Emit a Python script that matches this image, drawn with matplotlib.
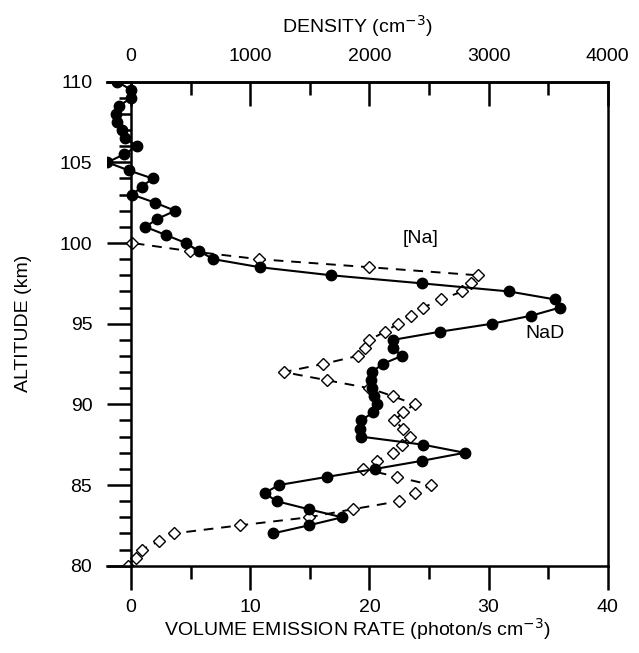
import matplotlib.pyplot as plt
from matplotlib.ticker import MultipleLocator, FixedLocator

plt.rcParams["font.family"] = ["Liberation Sans", "DejaVu Sans"]

# NaD volume emission rate (photon/s cm^3) vs altitude, 0.5 km steps
nad_alt = [82.0, 82.5, 83.0, 83.5, 84.0, 84.5, 85.0, 85.5, 86.0, 86.5,
           87.0, 87.5, 88.0, 88.5, 89.0, 89.5, 90.0, 90.5, 91.0, 91.5,
           92.0, 92.5, 93.0, 93.5, 94.0, 94.5, 95.0, 95.5, 96.0, 96.5,
           97.0, 97.5, 98.0, 98.5, 99.0, 99.5, 100.0, 100.5, 101.0, 101.5,
           102.0, 102.5, 103.0, 103.5, 104.0, 104.5, 105.0, 105.5, 106.0, 106.5,
           107.0, 107.5, 108.0, 108.5, 109.0, 109.5, 110.0]
nad_ver = [11.9, 14.9, 17.7, 14.9, 12.2, 11.2, 12.4, 16.4, 20.5, 24.4,
           28.0, 24.5, 19.3, 19.2, 19.3, 20.3, 20.6, 20.4, 20.2, 20.1,
           20.2, 21.1, 22.7, 22.0, 22.0, 25.9, 30.3, 33.6, 36.0, 35.6,
           31.7, 24.4, 16.8, 10.8, 6.9, 5.7, 4.6, 2.9, 1.2, 2.2,
           3.7, 2.0, 0.1, 0.9, 1.8, -0.2, -2.0, -0.6, 0.5, -0.5,
           -0.8, -1.2, -1.3, -1.0, 0.0, 0.0, -1.2]

# [Na] density (cm^-3), read on the top axis (= bottom axis x 100)
na_alt = [80.0, 80.5, 81.0, 81.5, 82.0, 82.5, 83.0, 83.5, 84.0, 84.5,
          85.0, 85.5, 86.0, 86.5, 87.0, 87.5, 88.0, 88.5, 89.0, 89.5,
          90.0, 90.5, 91.0, 91.5, 92.0, 92.5, 93.0, 93.5, 94.0, 94.5,
          95.0, 95.5, 96.0, 96.5, 97.0, 97.5, 98.0, 98.5, 99.0, 99.5, 100.0]
na_dens = [-30, 40, 90, 230, 360, 910, 1490, 1860, 2250, 2380,
           2520, 2230, 1950, 2060, 2200, 2270, 2340, 2280, 2210, 2280,
           2380, 2200, 2000, 1640, 1280, 1610, 1900, 1960, 2000, 2130,
           2240, 2350, 2450, 2600, 2780, 2850, 2910, 2000, 1070, 490, 10]

dens_ticks = [0, 1000, 2000, 3000, 4000]

fig = plt.figure(figsize=(6.39, 6.53), dpi=100)
ax = fig.add_axes([0.168, 0.1337, 0.783, 0.7412])

ax.plot([d / 100 for d in na_dens], na_alt, "--", color="black", lw=1.4,
        dashes=(5, 4), marker="D", ms=6, mfc="white", mec="black", mew=1.0, zorder=2)
ax.plot(nad_ver, nad_alt, "-", color="black", lw=1.5,
        marker="o", ms=7.5, mfc="black", mec="black", zorder=3)

ax.set_xlim(-2, 40)
ax.set_ylim(80, 110)

for s in ax.spines.values():
    s.set_linewidth(1.8)
ax.spines["left"].set_position(("data", 0))

ax.xaxis.set_major_locator(MultipleLocator(10))
ax.xaxis.set_minor_locator(MultipleLocator(5))
ax.yaxis.set_major_locator(MultipleLocator(5))
ax.yaxis.set_minor_locator(MultipleLocator(1))
ax.tick_params(axis="both", which="major", length=17, width=1.8,
               labelsize=14, direction="out")
ax.tick_params(axis="both", which="minor", length=9, width=1.8, direction="out")
ax.tick_params(axis="x", pad=7)
ax.tick_params(axis="y", pad=11)

top = ax.secondary_xaxis("top", functions=(lambda x: x * 100, lambda x: x / 100))
top.xaxis.set_major_locator(FixedLocator(dens_ticks))
top.xaxis.set_minor_locator(FixedLocator([500, 1500, 2500, 3500]))
top.tick_params(which="major", length=17, width=1.8, direction="in",
                labelsize=14, pad=12)
top.tick_params(which="minor", length=9, width=1.8, direction="in")
top.spines["top"].set_linewidth(1.8)
top.set_xlabel("DENSITY (cm$^{-3}$)", fontsize=14, labelpad=11)

ax.set_xlabel("VOLUME EMISSION RATE (photon/s cm$^{-3}$)", fontsize=14, labelpad=0)
ax.set_ylabel("ALTITUDE (km)", fontsize=14)
ax.yaxis.set_label_coords(-0.15, 0.5)

ax.text(24.3, 100.3, "[Na]", fontsize=14, ha="center", va="center")
ax.text(33.1, 94.4, "NaD", fontsize=14, ha="left", va="center")

fig.savefig("out.png", dpi=100)
